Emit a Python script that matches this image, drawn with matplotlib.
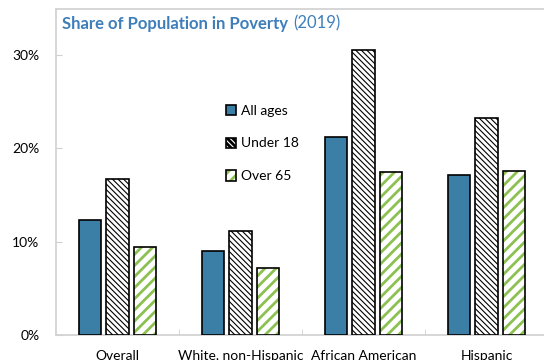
import matplotlib
matplotlib.use("Agg")
import matplotlib.pyplot as plt
import numpy as np
from matplotlib.legend_handler import HandlerTuple

# data
categories = ["Overall", "White, non-Hispanic", "African American", "Hispanic"]
all_ages = [12.3, 9.0, 21.2, 17.1]
under_18 = [16.7, 11.1, 30.5, 23.3]
over_65 = [9.4, 7.2, 17.5, 17.6]
yticks = [0, 10, 20, 30]
ytick_labels = ["0%", "10%", "20%", "30%"]

blue = "#3B7EA6"
green = "#8CC152"
title_blue = "#3D7EBB"
spine_gray = "#D0D0D0"

plt.rcParams["font.family"] = ["Lato", "DejaVu Sans"]

fig = plt.figure(figsize=(5.44, 3.6), dpi=100)
ax = fig.add_axes([56 / 544, 25 / 360, 492 / 544, 326 / 360])

x = np.arange(len(categories))
w = 0.18
off = 0.225
hatch_u18 = "\\\\\\\\\\\\"
hatch_o65 = "///"

b1 = ax.bar(x - off, all_ages, w, color=blue, edgecolor="black", linewidth=1.2, zorder=3)

# under 18: black dense hatch
plt.rcParams["hatch.linewidth"] = 0.8
b2 = ax.bar(x, under_18, w, color="white", edgecolor="black", hatch=hatch_u18, linewidth=1.2, zorder=3)
h2 = plt.Rectangle((0, 0), 1, 1, facecolor="white", edgecolor="black", hatch=hatch_u18, linewidth=1.2)

# over 65: green hatch, black outline drawn on top
plt.rcParams["hatch.linewidth"] = 2.0
b3h = ax.bar(x + off, over_65, w, color="white", edgecolor=green, hatch=hatch_o65, linewidth=0, zorder=3)
h3a = plt.Rectangle((0, 0), 1, 1, facecolor="white", edgecolor=green, hatch=hatch_o65, linewidth=0)
b3e = ax.bar(x + off, over_65, w, fill=False, edgecolor="black", linewidth=1.2, zorder=4)
h3b = plt.Rectangle((0, 0), 1, 1, fill=False, edgecolor="black", linewidth=1.2)

h1 = plt.Rectangle((0, 0), 1, 1, facecolor=blue, edgecolor="black", linewidth=1.2)

ax.set_xlim(-0.5, 3.5)
ax.set_ylim(0, 34.93)
ax.set_yticks(yticks)
ax.set_yticklabels(ytick_labels)
ax.set_xticks(x)
ax.set_xticklabels(categories)
ax.set_xticks([0.5, 1.5, 2.5], minor=True)

ax.tick_params(axis="y", direction="in", length=4, color=spine_gray, pad=12, labelsize=10)
ax.tick_params(axis="x", which="major", length=0, pad=11, labelsize=10)
ax.tick_params(axis="x", which="minor", direction="in", length=4, color=spine_gray)

for s in ax.spines.values():
    s.set_color(spine_gray)
    s.set_linewidth(1.2)

ax.text(0.012, 0.955, "Share of Population in Poverty", transform=ax.transAxes,
        fontsize=12, fontweight="bold", color=title_blue, va="center", ha="left")
ax.text(0.483, 0.955, "(2019)", transform=ax.transAxes,
        fontsize=12, color=title_blue, va="center", ha="left")

ax.legend([h1, h2, (h3a, h3b)], ["All ages", "Under 18", "Over 65"],
          handler_map={tuple: HandlerTuple(ndivide=1)},
          loc="upper left", bbox_to_anchor=(0.32, 0.745), frameon=False,
          fontsize=10, handlelength=0.75, handleheight=0.75,
          handletextpad=0.35, labelspacing=1.5)

fig.savefig("out.png", dpi=100)
